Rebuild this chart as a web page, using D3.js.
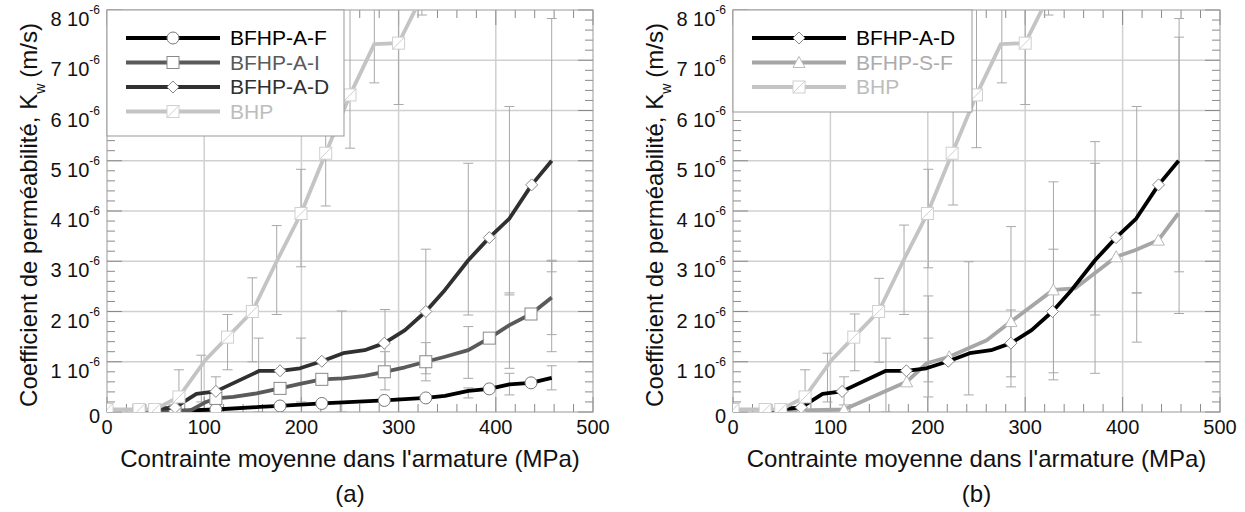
<!DOCTYPE html>
<html lang="fr">
<head>
<meta charset="UTF-8">
<title>Coefficient de perméabilité</title>
<script src="https://cdnjs.cloudflare.com/ajax/libs/d3/7.8.5/d3.min.js"></script>
<style>
  body { margin: 0; background: #fff; }
  svg { display: block; font-family: Arial, "Liberation Sans", sans-serif; }
</style>
</head>
<body>
<script>
// axes
const xTicks = [0, 100, 200, 300, 400, 500];
const yTicks = [0, 1, 2, 3, 4, 5, 6, 7, 8];   // x 10^-6 m/s

// BHP (same in both panels)
const bhpX = [0, 33, 49, 74, 101, 124, 149.5, 174.6, 199.6, 225, 250, 275, 300, 317];
const bhpY = [0.05, 0.05, 0.05, 0.3, 1.03, 1.49, 2.0, 3.0, 3.95, 5.15, 6.31, 7.32, 7.34, 8.0];
const bhpMk = [0, 1, 2, 3, 5, 6, 8, 9, 10, 12];

// BFHP-A-D
const adX = [33, 49, 58, 70, 92, 112, 157, 178, 198.5, 221, 243, 265, 285.3, 306.6, 328, 347.7, 371.7, 393.3, 414, 436.9, 457.5];
const adY = [0.03, 0.03, 0.07, 0.09, 0.36, 0.41, 0.82, 0.82, 0.87, 1.01, 1.17, 1.23, 1.37, 1.63, 2.0, 2.43, 3.02, 3.47, 3.85, 4.52, 5.0];
const adMk = [0, 1, 3, 5, 7, 9, 12, 14, 17, 19];

// BFHP-A-I
const aiX = [33, 49, 70, 85, 102, 112, 130, 154, 178, 198.5, 221, 243, 265, 285.3, 306.6, 328, 347.7, 371.7, 393.3, 414, 436.2, 457.5];
const aiY = [0.03, 0.03, 0.02, 0.02, 0.2, 0.27, 0.3, 0.37, 0.47, 0.56, 0.65, 0.67, 0.72, 0.8, 0.89, 1.0, 1.1, 1.23, 1.47, 1.73, 1.95, 2.28];
const aiMk = [0, 1, 2, 5, 8, 10, 13, 15, 18, 20];

// BFHP-A-F
const afX = [33, 49, 70, 112, 157, 178, 221, 243, 285.3, 328, 347.7, 371.7, 393.3, 414, 436.2, 457.5];
const afY = [0.02, 0.02, 0.02, 0.05, 0.1, 0.12, 0.17, 0.19, 0.23, 0.28, 0.32, 0.42, 0.46, 0.55, 0.58, 0.68];
const afMk = [0, 1, 2, 3, 5, 6, 8, 9, 12, 14];

// BFHP-S-F
const sfX = [33, 49, 70, 114, 178.3, 198.9, 222, 260.5, 285.4, 328.8, 351, 393.4, 412.7, 436.7, 457.2];
const sfY = [0.03, 0.03, 0.03, 0.05, 0.6, 0.97, 1.1, 1.43, 1.8, 2.43, 2.46, 3.09, 3.22, 3.42, 3.95];
const sfMk = [0, 1, 2, 3, 4, 6, 8, 9, 11, 13];

// error bars [x, low, high]
const errA = [
  [74, -0.3, 0.84], [97, 0.2, 1.13], [112, 0.14, 0.7], [124, 0.84, 1.94],
  [149.5, 1.0, 2.67], [156, 0.0, 1.47], [174.6, 1.94, 3.71], [199.6, 2.89, 4.83],
  [199.6, 0.2, 1.47], [225, 4.1, 8.6], [241.5, 0.0, 2.01], [250, 5.25, 8.6],
  [275, 6.55, 8.6], [286, 0.77, 2.04], [286, 0.44, 1.2], [300, 6.12, 8.6],
  [324, 7.9, 8.6], [328, 0.76, 3.24], [328, 0.62, 1.38], [371.7, 1.93, 4.95],
  [371.7, 0.67, 1.7], [371.7, 0.28, 0.48], [414, 2.33, 6.08], [414, 0.87, 2.37],
  [414, 0.34, 0.77], [457.5, 1.2, 7.83], [457.5, 1.54, 3.02], [457.5, 2.79, 3.0],
  [457.5, 0.44, 0.92]
];
const errB = [
  [74, -0.3, 0.84], [97, 0.2, 1.17], [114, 0.14, 0.7], [125, 0.82, 1.95],
  [150, 0.99, 2.66], [157, 0.0, 1.47], [175.6, 1.94, 3.72], [200.5, 2.87, 4.83],
  [200.5, 0.3, 1.47], [200.5, 0.6, 2.31], [226, 4.12, 8.6], [242, 0.34, 2.99],
  [250, 5.26, 8.6], [276, 6.55, 8.6], [285.4, 0.5, 3.69], [285.4, 0.7, 2.03],
  [300, 6.12, 8.6], [324, 7.9, 8.6], [329, 0.64, 4.58], [329, 0.78, 3.24],
  [371.7, 0.77, 5.38], [371.7, 1.93, 4.95], [414.5, 2.37, 6.08], [414.5, 1.39, 2.37],
  [458, 1.96, 7.83], [458, 2.79, 7.46]
];

const legendA = ["BFHP-A-F", "BFHP-A-I", "BFHP-A-D", "BHP"];
const legendB = ["BFHP-A-D", "BFHP-S-F", "BHP"];

const W = 1245, H = 512;
const svg = d3.select("body").append("svg").attr("width", W).attr("height", H);

const mk = (xs, ys) => xs.map((v, i) => [v, ys[i]]);

const panels = [
  {
    id: "a", left: 107, right: 593, legendRight: 344, legendBottom: 136, errs: errA, tag: "(a)",
    series: [
      { name: legendA[0], pts: mk(afX, afY), idx: afMk, color: "#000", text: "#000", shape: "circle", mstroke: "#777" },
      { name: legendA[1], pts: mk(aiX, aiY), idx: aiMk, color: "#5a5a5a", text: "#5a5a5a", shape: "square", mstroke: "#888" },
      { name: legendA[2], pts: mk(adX, adY), idx: adMk, color: "#303030", text: "#303030", shape: "diamond", mstroke: "#888" },
      { name: legendA[3], pts: mk(bhpX, bhpY), idx: bhpMk, color: "#c4c4c4", text: "#bdbdbd", shape: "slash", mstroke: "#cfcfcf" }
    ],
    drawOrder: [0, 1, 2, 3]
  },
  {
    id: "b", left: 733, right: 1220, legendRight: 972, legendBottom: 112, errs: errB, tag: "(b)",
    series: [
      { name: legendB[0], pts: mk(adX, adY), idx: adMk, color: "#000", text: "#000", shape: "diamond", mstroke: "#888" },
      { name: legendB[1], pts: mk(sfX, sfY), idx: sfMk, color: "#a6a6a6", text: "#acacac", shape: "triangle", mstroke: "#bbb" },
      { name: legendB[2], pts: mk(bhpX, bhpY), idx: bhpMk, color: "#c4c4c4", text: "#bdbdbd", shape: "slash", mstroke: "#cfcfcf" }
    ],
    drawOrder: [1, 0, 2]
  }
];

function marker(g, shape, cx, cy, stroke) {
  const m = g.append("g").attr("transform", `translate(${cx},${cy})`)
    .attr("fill", "#fff").attr("stroke", stroke).attr("stroke-width", 1);
  if (shape === "circle") m.append("circle").attr("r", 6);
  else if (shape === "square") m.append("rect").attr("x", -6).attr("y", -6).attr("width", 12).attr("height", 12);
  else if (shape === "diamond") m.append("path").attr("d", "M0,-6L6,0L0,6L-6,0Z");
  else if (shape === "triangle") m.append("path").attr("d", "M0,-6L6,5L-6,5Z");
  else {
    m.append("rect").attr("x", -6).attr("y", -6).attr("width", 12).attr("height", 12);
    m.append("line").attr("x1", -6).attr("y1", 6).attr("x2", 6).attr("y2", -6);
  }
}

function drawPanel(p) {
  const x = d3.scaleLinear().domain([0, 500]).range([p.left, p.right]);
  const y = d3.scaleLinear().domain([0, 8]).range([412, 10]);
  const g = svg.append("g");
  const clip = "clip-" + p.id;
  svg.append("clipPath").attr("id", clip).append("rect")
    .attr("x", p.left).attr("y", 10).attr("width", p.right - p.left).attr("height", 402);

  // grid
  g.append("g").selectAll("line").data(xTicks.slice(1, -1)).join("line")
    .attr("x1", d => x(d)).attr("x2", d => x(d)).attr("y1", y(0)).attr("y2", y(8))
    .attr("stroke", "#d0d0d0").attr("stroke-width", 1.5);
  g.append("g").selectAll("line").data(yTicks.slice(1, -1)).join("line")
    .attr("x1", x(0)).attr("x2", x(500)).attr("y1", d => y(d)).attr("y2", d => y(d))
    .attr("stroke", "#d0d0d0").attr("stroke-width", 1.5);

  // inward ticks on all sides
  const tg = g.append("g").attr("stroke", "#8a8a8a").attr("stroke-width", 1);
  d3.range(0, 501, 20).forEach(v => {
    const len = v % 100 === 0 ? 15 : 8;
    tg.append("line").attr("x1", x(v)).attr("x2", x(v)).attr("y1", y(0)).attr("y2", y(0) - len);
    tg.append("line").attr("x1", x(v)).attr("x2", x(v)).attr("y1", y(8)).attr("y2", y(8) + len);
  });
  d3.range(0, 41).forEach(k => {
    const v = k / 5, len = k % 5 === 0 ? 15 : 8;
    tg.append("line").attr("y1", y(v)).attr("y2", y(v)).attr("x1", x(0)).attr("x2", x(0) + len);
    tg.append("line").attr("y1", y(v)).attr("y2", y(v)).attr("x1", x(500)).attr("x2", x(500) - len);
  });

  g.append("rect").attr("x", x(0)).attr("y", y(8)).attr("width", x(500) - x(0)).attr("height", y(0) - y(8))
    .attr("fill", "none").attr("stroke", "#999");

  // error bars
  const eg = g.append("g").attr("clip-path", `url(#${clip})`).attr("stroke", "#a8a8a8").attr("stroke-width", 1);
  p.errs.forEach(([xv, lo, hi]) => {
    eg.append("line").attr("x1", x(xv)).attr("x2", x(xv)).attr("y1", y(lo)).attr("y2", y(hi));
    [lo, hi].forEach(v => eg.append("line").attr("x1", x(xv) - 5).attr("x2", x(xv) + 5).attr("y1", y(v)).attr("y2", y(v)));
  });

  // series
  const line = d3.line().x(d => x(d[0])).y(d => y(d[1]));
  p.drawOrder.forEach(i => {
    const s = p.series[i];
    const sg = g.append("g").attr("clip-path", `url(#${clip})`);
    sg.append("path").attr("d", line(s.pts)).attr("fill", "none").attr("stroke", s.color)
      .attr("stroke-width", 3.8).attr("stroke-linejoin", "round");
    s.idx.forEach(j => marker(sg, s.shape, x(s.pts[j][0]), y(s.pts[j][1]), s.mstroke));
  });

  // tick labels
  yTicks.forEach(v => {
    if (v === 0) {
      g.append("text").attr("x", x(0) - 7).attr("y", y(0) + 11).attr("text-anchor", "end")
        .attr("font-size", 20).attr("fill", "#111").text("0");
    } else {
      const t = g.append("text").attr("x", x(0) - 7).attr("y", y(v) + 16).attr("text-anchor", "end")
        .attr("font-size", 20).attr("fill", "#111");
      t.append("tspan").text(v + " 10");
      t.append("tspan").attr("font-size", 12).attr("dy", -12).text("-6");
    }
  });
  g.append("g").selectAll("text").data(xTicks).join("text")
    .attr("x", d => x(d)).attr("y", 434).attr("text-anchor", "middle")
    .attr("font-size", 20).attr("fill", "#111").text(d => d);

  // axis titles
  g.append("text").attr("x", (x(0) + x(500)) / 2).attr("y", 467).attr("text-anchor", "middle")
    .attr("font-size", 24).attr("fill", "#111").text("Contrainte moyenne dans l'armature (MPa)");
  const yt = g.append("text").attr("transform", `translate(${p.left - 70},215) rotate(-90)`)
    .attr("text-anchor", "middle").attr("font-size", 24).attr("fill", "#111");
  yt.append("tspan").text("Coefficient de perméabilité, K");
  yt.append("tspan").attr("font-size", 14).attr("dy", 8).text("w");
  yt.append("tspan").attr("dy", -8).attr("dx", 6).text("(m/s)");
  g.append("text").attr("x", (x(0) + x(500)) / 2).attr("y", 502).attr("text-anchor", "middle")
    .attr("font-size", 24).attr("fill", "#111").text(p.tag);

  // legend
  const lg = g.append("g");
  lg.append("rect").attr("x", p.left).attr("y", 10).attr("width", p.legendRight - p.left)
    .attr("height", p.legendBottom - 10).attr("fill", "#fff").attr("stroke", "#999");
  p.series.forEach((s, i) => {
    const ly = 38 + i * 24.5;
    lg.append("line").attr("x1", p.left + 19).attr("x2", p.left + 113).attr("y1", ly).attr("y2", ly)
      .attr("stroke", s.color).attr("stroke-width", 3.8);
    marker(lg, s.shape, p.left + 66, ly, s.mstroke);
    lg.append("text").attr("x", p.left + 123).attr("y", ly + 7).attr("font-size", 21)
      .attr("fill", s.text).text(s.name);
  });
}

panels.forEach(drawPanel);
</script>
</body>
</html>
